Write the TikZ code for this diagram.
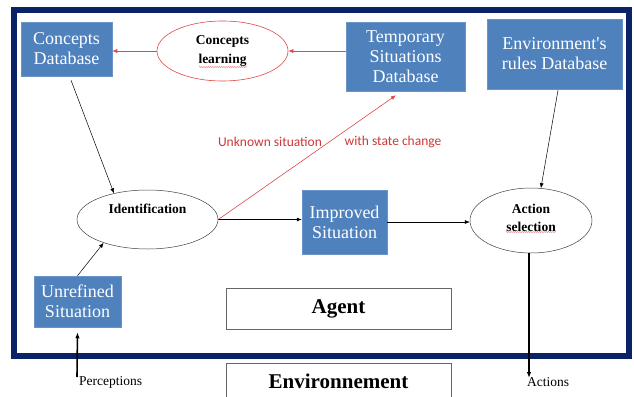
\documentclass[tikz,border=0pt]{standalone}
\usepackage{fontspec}
\setmainfont{Liberation Serif}
\newfontfamily\calib{Carlito}
\usetikzlibrary{arrows.meta,shapes.geometric,decorations.pathmorphing}
\definecolor{navy}{HTML}{0B2266}
\definecolor{boxblue}{HTML}{4F81BD}
\definecolor{boxedge}{HTML}{6A94C8}
\definecolor{redline}{HTML}{E04848}
\definecolor{redtext}{RGB}{205,55,55}
\tikzset{
  dbbox/.style={rectangle, fill=boxblue, draw=boxedge, line width=0.5pt, text=white, align=center, inner sep=0pt, font=\fontsize{18}{20}\selectfont},
  procell/.style={ellipse, draw=black!75, line width=0.5pt, inner sep=0pt, align=center, font=\bfseries\fontsize{13.5}{18}\selectfont},
  learnell/.style={ellipse, draw=redline, line width=0.6pt, inner sep=0pt, align=center, font=\bfseries\fontsize{13.5}{19}\selectfont},
  titlebox/.style={rectangle, draw=black!60, line width=0.6pt, fill=white, inner sep=0pt, font=\bfseries\fontsize{21}{24}\selectfont},
  arr/.style={-{Latex[length=5pt,width=4pt]}, line width=0.5pt, draw=black},
  redarr/.style={-{Latex[length=5pt,width=4pt]}, line width=0.6pt, draw=redline},
  bigarr/.style={-{Latex[length=6pt,width=4.5pt]}, line width=1.6pt, draw=black},
  redlab/.style={text=redtext, font=\calib\fontsize{13.5}{15}\selectfont, inner sep=0pt},
  smalllab/.style={font=\fontsize{13.5}{15}\selectfont, inner sep=0pt},
  squig/.style={draw=redline!80, line width=0.4pt, decorate, decoration={snake, amplitude=0.5pt, segment length=2.2pt}}
}
\begin{document}
\begin{tikzpicture}[x=1pt,y=-1pt]
\useasboundingbox[fill=white] (0,0) rectangle (634,396);
% outer frame
\draw[navy, line width=6pt] (14,10) rectangle (629,356);
% nodes
\node[dbbox, minimum width=91pt, minimum height=54pt] (cdb) at (66.5,49) {Concepts\\Database};
\node[learnell, minimum width=131pt, minimum height=60pt] (cl) at (222.5,51) {Concepts\\learning};
\node[dbbox, minimum width=119pt, minimum height=69pt] (tsd) at (405.5,56.5) {Temporary\\Situations\\Database};
\node[dbbox, minimum width=135pt, minimum height=70pt] (erd) at (554.5,54) {Environment\textquotesingle s\\rules Database};
\node[procell, minimum width=141pt, minimum height=59pt] (id) at (147.5,219.5) {};
\node[font=\bfseries\fontsize{13.5}{16}\selectfont, inner sep=0pt] (idt) at (147.5,209) {Identification};
\node[dbbox, minimum width=87pt, minimum height=51pt] (us) at (77.5,301.5) {Unrefined\\Situation};
\node[dbbox, minimum width=85pt, minimum height=64pt] (is) at (344.5,222) {Improved\\Situation};
\node[procell, minimum width=122pt, minimum height=65pt] (as) at (531,220.5) {};
\node[font=\bfseries\fontsize{13.5}{18}\selectfont, inner sep=0pt, align=center] (ast) at (531,218) {Action\\selection};
\node[titlebox, minimum width=225pt, minimum height=41pt] (agent) at (338.5,308.5) {Agent};
\node[font=\bfseries\fontsize{21}{24}\selectfont, inner sep=0pt] (env) at (338.5,381) {Environnement};
\draw[black!60, line width=0.6pt] (226,400) |- (451,363) -- (451,400);
% labels
\node[redlab] (lu) at (270,142) {Unknown situation};
\node[redlab] (lw) at (393,142) {with state change};
\node[smalllab, anchor=west] (perl) at (79,382) {Perceptions};
\node[smalllab, anchor=west] (actl) at (527,382) {Actions};
\coordinate (perc) at (77,377);
\coordinate (act) at (529,378);
% spell-check squiggles
\draw[squig] (199,67) -- (247,67);
\draw[squig] (506,232) -- (556,232);
% connectors
\draw[redarr] (cl.west) -- (cl.west -| cdb.east);
\draw[redarr] (cl.east -| tsd.west) -- (cl.east);
\draw[arr] ([xshift=4.5pt,yshift=-4pt]cdb.south) -- (id.142);
\draw[arr] (us.north) -- (id.208);
\draw[bigarr] (perc) -- ([yshift=-5pt]us.south);
\draw[arr] (id.east) -- (id.east -| is.west);
\draw[arr] (is.east) -- (is.east -| as.west);
\draw[arr] ([xshift=3.5pt,yshift=-1pt]erd.south) -- (as.73);
\draw[bigarr] ([xshift=-2pt]as.south) -- (act);
\draw[redarr] (id.east) -- ([xshift=-9.5pt,yshift=-4pt]tsd.south);
\end{tikzpicture}
\end{document}
